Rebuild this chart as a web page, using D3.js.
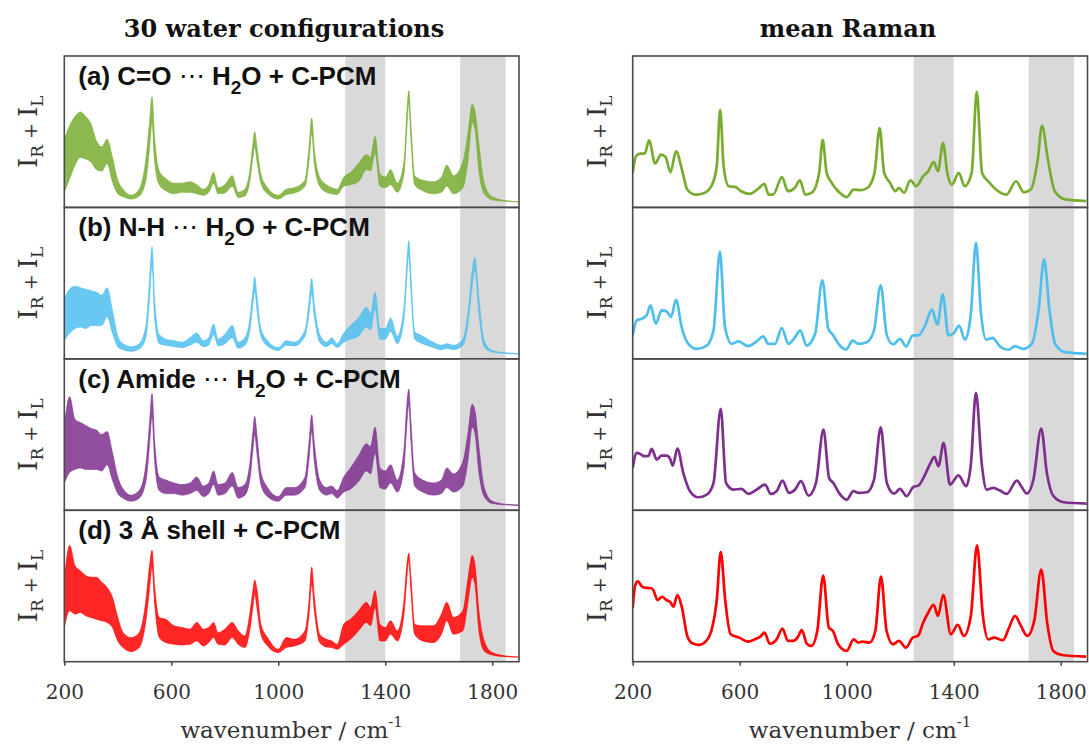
<!DOCTYPE html>
<html>
<head>
<meta charset="utf-8">
<script src="https://cdn.jsdelivr.net/npm/d3@7"></script>
<style>
  body { margin: 0; background: #fff; }
  svg { display: block; }
</style>
</head>
<body>
<svg id="chart" width="1089" height="746"></svg>
<script>
// ---- data (intensity: 0 = panel floor, 100 = panel top) ----
const wnRange = [200, 1900];
const xTickValues = [200, 600, 1000, 1400, 1800];
const shadedBands = [[1250, 1400], [1680, 1850]];

const panelLabels = [
  ["(a) C=O ", "~\u22EF", " H", "_2", "O + C-PCM"],
  ["(b) N-H ", "~\u22EF", " H", "_2", "O + C-PCM"],
  ["(c) Amide ", "~\u22EF", " H", "_2", "O + C-PCM"],
  ["(d) 3 \u00C5 shell + C-PCM"]
];

// 30 configurations: spread of the bundle (upper / lower edge) on a shared grid
const bandWn = [200,220,240,260,280,300,320,340,360,380,400,420,450,480,505,518,528,538,555,580,
  610,640,670,695,720,740,758,775,800,828,850,875,895,905,912,920,935,960,1000,1030,
  1060,1100,1115,1125,1135,1155,1180,1200,1220,1245,1270,1300,1330,1345,1362,1380,1400,1420,1445,1470,
  1480,1488,1496,1510,1540,1580,1610,1630,1655,1690,1710,1725,1735,1750,1770,1800,1850,1900];

const bandHiA = [45,54,60,63,60,55,44,40,45,33,18,12,8,12,32,55,73,45,24,19,
  16,16,17,15,12,15,23,13,15,21,10,12,26,42,50,40,22,13,8,12,
  13,18,40,59,38,20,15,13,12,20,23,29,35,33,47,22,20,25,16,30,
  60,77,55,21,18,17,20,28,21,30,50,68,64,42,16,7,4.5,3.8];
const bandLoA = [10,19,28,33,32,30,25,24,29,17,9,7,5.5,7.5,18,38,56,30,15,11,
  9,10,10,9,8,10,16,9,9.5,14,6.5,7.5,19,33,40,31,16,9,5.5,8.5,
  9.5,14,31,49,29,14,10,9,8.5,14,15,17,25,24,36,14,13,15,10,22,
  50,69,45,15,11,9,10,14,9,13,32,56,52,24,9,5,4,3.6];

const bandHiB = [40,46,48,47,46,45,44,42,47,32,15,10,8,10,22,50,74,38,16,13,
  12,11,14,17,12,14,23,13,16,22,11,14,28,45,54,42,20,12,7.5,12,
  11,19,38,53,36,16,11,14,10,17,22,27,34,30,44,20,20,27,15,34,
  62,78,55,18,15,11,9,10,9,13,32,58,67,40,12,5.5,4,3.5];
const bandLoB = [12,17,20,21,20,22,22,22,28,17,8,6,5,6.5,14,38,62,26,10,9,
  8,7.5,9,11,8,9,16,8.5,10,14,7,9,20,36,45,33,15,8.5,5.5,9,
  8.5,15,30,43,28,11,8,10,7.5,11,13,15,21,19,33,13,13,18,10,26,
  52,69,45,13,10,7.5,6,7,6,9,24,48,59,30,8,4.5,3.5,3.2];

const bandHiC = [55,75,60,58,56,54,53,50,52,38,22,14,10,13,30,56,77,45,22,20,
  18,17,18,22,16,18,26,17,18,25,15,17,33,52,62,50,25,15,9,15,
  15,22,45,63,44,20,15,16,13,22,28,36,44,42,55,28,26,30,20,40,
  68,80,58,25,20,18,20,28,24,32,52,70,66,42,15,6,4,3.5];
const bandLoC = [18,25,27,28,27,27,27,26,30,20,11,8,6,8,19,42,62,32,13,11,
  11,10,11,13,9,11,17,10,11,16,8,10,22,40,50,38,17,9,6,10,
  10,15,34,52,32,13,10,11,8,12,14,19,26,24,38,15,14,18,12,28,
  55,70,46,16,12,10,11,15,12,16,34,55,51,25,9,4.5,3.6,3.2];

const bandHiD = [53.5,76.8,63.5,60,56.9,55.8,55.8,52.4,49,42.5,29.2,19.2,15.9,19.2,40.3,62.4,73.5,49.1,29.2,28,
  23.7,22.6,21.5,25.9,21.5,22.6,25.9,19.2,21.5,25.9,20.4,17,33.6,46.9,54,48,24.8,15.9,8.2,15.9,
  14.8,20.4,40.3,62.4,42.5,18.1,14.8,13.7,11.5,24.8,28,33.6,39.2,35.8,46.9,24.8,22.6,27,20.4,40.3,
  62.4,71.7,55.8,24.8,23.7,23.7,31.4,39.2,29.2,33.6,55.8,70.1,64.6,33.6,13.7,6,3.8,3.1];
const bandLoD = [22.6,33.6,31.4,32.5,30.3,29.2,28,27,25.9,22.6,13.7,9.3,6.6,9.3,27,46.9,62.4,38,15.9,12.6,
  11.5,11,11.5,13.7,10.4,12.6,15.9,11.5,11,15.9,11.5,9.3,22.6,35.8,44.7,35.8,18.1,10.4,6,9.3,
  10.4,13.7,31.4,51.3,33.6,12.6,9.7,9.3,8.2,11.5,14.8,20.4,25.9,23.7,35.8,13.7,13.7,18.1,13.7,31.4,
  53.5,66.8,46.9,18.1,13.7,12.6,18.1,27,18.1,20.4,40.3,55.8,51.3,20.4,7.1,4.4,3.3,3];

// mean Raman spectra
const meanWnA = [200,212,228,245,261,284,306,323,341,362,384,404,436,468,494,514,527,540,559,585,
  605,637,670,692,708,725,758,780,806,825,845,871,897,910,925,942,968,1000,1026,1052,
  1078,1104,1123,1140,1162,1182,1195,1214,1238,1260,1286,1305,1325,1341,1360,1376,1393,1419,1441,1467,
  1486,1506,1532,1558,1597,1633,1662,1688,1714,1730,1752,1778,1817,1895];
const meanA = [22.8,33.8,35.5,35.5,44.3,29,34.9,33.3,23.2,37,25,11.8,8.5,9.6,14,27,64.5,27,14,13.4,
  10.7,9,12.5,15.6,8.5,8.5,20,10.7,13,17.8,8.5,10,22.8,44.7,22.8,16.7,10.7,6.8,11.8,11.4,
  13,22.8,52.4,22.8,16.2,10.7,13,9.6,17.8,14,20.6,24,30,24,42.5,22.8,15,22.8,14,22.8,
  76.5,22.8,16.7,11.8,8.5,17.3,10,11.8,31.6,54,31.6,10.7,5.3,4.2];

const meanWnB = [200,215,234,252,267,286,308,327,343,362,383,408,439,477,502,526,545,570,595,632,
  664,688,707,732,757,782,807,826,850,882,909,931,950,969,998,1022,1044,1075,1102,1127,
  1150,1174,1199,1222,1247,1268,1293,1318,1339,1359,1380,1399,1420,1442,1464,1483,1502,1521,1545,1573,
  1604,1629,1660,1692,1717,1738,1758,1779,1816,1897];
const meanB = [15.5,25.4,26.5,28.7,35.3,23.2,32,31.3,27.6,39,21,9.9,6.6,8.8,18.8,70.6,21,9.9,11.5,8.4,
  11.7,14.8,9.9,9.9,20.3,9.9,14.3,18.8,8.8,16.6,51.9,19.9,15.5,9.9,6.2,12.1,9.9,11,18.8,48.6,
  15.5,9.5,13.2,8.2,15.5,15.5,22,32.5,22.7,42.6,15.5,16.6,22,12.6,29.8,76.6,29.8,12.6,13.9,8.2,
  6,8.4,6.6,9.9,32,65.6,32,9.9,4.4,3.3];

const meanWnC = [200,215,230,242,259,271,290,308,327,340,350,367,389,414,445,477,502,529,549,576,
  607,632,664,695,716,738,760,784,807,829,857,885,913,934,950,973,1000,1025,1044,1075,
  1102,1127,1150,1177,1199,1224,1249,1268,1293,1312,1328,1343,1362,1386,1418,1446,1464,1483,1505,1523,
  1548,1573,1598,1636,1654,1673,1698,1727,1748,1773,1811,1897];
const meanC = [28,37.9,37,35.7,35.9,40.5,33.5,36.1,36.1,33.9,29.5,40.7,24.7,12.6,8.6,10.4,18,67,18,13.7,
  14.1,10.8,13.7,17,10.8,12.6,19.6,11.5,13.7,19.2,9.7,18,53.3,21.4,18,11,7,12.6,11.5,11.9,
  20.3,54.8,18,11,14.1,9.3,15.4,16.3,23.6,30.8,35.2,29.1,44.5,17,23.1,15.9,30.2,77.5,30.2,13.7,
  14.8,13,10.8,19.6,15.4,11,20.3,54,24.7,9.3,5.3,4.4];

const meanWnD = [200,209,219,235,251,270,278,293,310,326,341,352,367,384,404,423,449,475,494,514,
  529,546,566,598,631,657,676,693,712,738,760,780,799,816,832,851,868,890,912,933,
  948,968,1000,1026,1043,1059,1085,1107,1128,1149,1173,1195,1221,1247,1266,1286,1305,1325,1341,1361,
  1389,1415,1438,1464,1487,1509,1529,1551,1584,1607,1629,1651,1675,1701,1727,1750,1772,1804,1895];
const meanD = [35.4,50.2,53.1,49.6,48.7,48.5,46.9,40.7,42.9,40.7,39.2,36.3,44,35.8,17,12.2,11.1,13.7,20.4,40.3,
  72.3,40.3,18.1,15.9,13.3,14.8,16.4,19.2,11.9,14.8,21.9,13.7,13.7,15.9,20.8,11.9,10.4,20.4,56.9,22.6,
  20.4,11.5,7.1,14.8,12.6,13.3,12.6,20.4,56.2,20.4,11.5,13.7,9.3,15.9,17,25.9,32.5,37.6,30.3,44.2,
  18.1,24.3,17,30.3,76.8,30.3,14.8,15.9,14.2,22.6,30.3,23.7,17,27,60.8,24.8,7.1,4.4,3.3];

// ---- styling / layout ----
const seriesColors = ["#77AC30", "#4DBEEE", "#7E2F8E", "#FF0000"];
const bandsHi = [bandHiA, bandHiB, bandHiC, bandHiD];
const bandsLo = [bandLoA, bandLoB, bandLoC, bandLoD];
const meanWns = [meanWnA, meanWnB, meanWnC, meanWnD];
const means = [meanA, meanB, meanC, meanD];

const plotTop = 56, plotBottom = 661.7;
const panelH = (plotBottom - plotTop) / 4;
const columns = [
  {x0: 64.3, x1: 519, title: "30 water configurations", titleX: 284},
  {x0: 632.7, x1: 1087.5, title: "mean Raman", titleX: 848}
];
const serif = "'DejaVu Serif', 'Liberation Serif', serif";
const sans = "'Liberation Sans', Arial, sans-serif";
const frameColor = "#4a4a4a";
const textColor = "#333";

const svg = d3.select("#chart");
const defs = svg.append("defs");

columns.forEach((col, c) => {
  const x = d3.scaleLinear().domain(wnRange).range([col.x0, col.x1]);

  // column title
  svg.append("text")
     .attr("x", col.titleX)
     .attr("y", 37)
     .attr("text-anchor", "middle")
     .attr("font-family", serif)
     .attr("font-weight", "bold")
     .attr("font-size", 24)
     .attr("fill", "#111")
     .text(col.title);

  for (let i = 0; i < 4; i++) {
    const yTop = plotTop + i * panelH;
    const yBot = yTop + panelH;
    const y = d3.scaleLinear().domain([0, 100]).range([yBot, yTop]);
    const clipId = `clip-${c}-${i}`;
    defs.append("clipPath").attr("id", clipId)
        .append("rect")
        .attr("x", col.x0).attr("y", yTop)
        .attr("width", col.x1 - col.x0).attr("height", panelH);

    const g = svg.append("g").attr("clip-path", `url(#${clipId})`);

    // shaded wavenumber windows
    g.selectAll(".shade")
     .data(shadedBands)
     .enter()
     .append("rect")
     .attr("class", "shade")
     .attr("x", d => x(d[0]))
     .attr("width", d => x(d[1]) - x(d[0]))
     .attr("y", yTop)
     .attr("height", panelH)
     .attr("fill", "#d9d9d9");

    if (c === 0) {
      // spread of the 30 configurations
      const pts = bandWn.map((w, k) => ({w: w, lo: bandsLo[i][k], hi: bandsHi[i][k]}));
      const area = d3.area()
                     .x(d => x(d.w))
                     .y0(d => y(d.lo))
                     .y1(d => y(d.hi))
                     .curve(d3.curveMonotoneX);
      g.append("path")
       .datum(pts)
       .attr("d", area)
       .attr("fill", seriesColors[i])
       .attr("fill-opacity", 0.85);
      ["hi", "lo"].forEach(key => {
        g.append("path")
         .datum(pts)
         .attr("d", d3.line().x(d => x(d.w)).y(d => y(d[key])).curve(d3.curveMonotoneX))
         .attr("fill", "none")
         .attr("stroke", seriesColors[i])
         .attr("stroke-opacity", 0.6)
         .attr("stroke-width", 1);
      });
    } else {
      const pts = meanWns[i].map((w, k) => ({w: w, v: means[i][k]}));
      g.append("path")
       .datum(pts)
       .attr("d", d3.line().x(d => x(d.w)).y(d => y(d.v)).curve(d3.curveMonotoneX))
       .attr("fill", "none")
       .attr("stroke", seriesColors[i])
       .attr("stroke-width", 2.7)
       .attr("stroke-linejoin", "round");
    }

    // panel frame
    svg.append("rect")
       .attr("x", col.x0).attr("y", yTop)
       .attr("width", col.x1 - col.x0).attr("height", panelH)
       .attr("fill", "none")
       .attr("stroke", frameColor)
       .attr("stroke-width", 1.6);

    // y label  I_R + I_L
    const yl = svg.append("text")
       .attr("transform", `translate(${col.x0 - 27},${(yTop + yBot) / 2}) rotate(-90)`)
       .attr("text-anchor", "middle")
       .attr("font-family", serif)
       .attr("font-size", 26)
       .attr("fill", textColor);
    yl.append("tspan").text("I");
    yl.append("tspan").attr("font-size", 17).attr("dy", 6).text("R");
    yl.append("tspan").attr("font-size", 19).attr("dy", -6).text(" + ");
    yl.append("tspan").text("I");
    yl.append("tspan").attr("font-size", 17).attr("dy", 6).text("L");

    // panel label
    if (c === 0) {
      const lab = svg.append("text")
         .attr("x", col.x0 + 14)
         .attr("y", yTop + 29)
         .attr("font-family", sans)
         .attr("font-weight", "bold")
         .attr("font-size", 26)
         .attr("fill", "#111");
      let shift = 0;
      panelLabels[i].forEach(part => {
        if (part.startsWith("_")) {
          lab.append("tspan").attr("font-size", 19).attr("dy", 9).text(part.slice(1));
          shift = 9;
        } else if (part.startsWith("~")) {
          lab.append("tspan").attr("font-weight", "normal").attr("dy", -shift).text(part.slice(1));
          shift = 0;
        } else {
          lab.append("tspan").attr("dy", -shift).text(part);
          shift = 0;
        }
      });
    }

    // x axis on the bottom panel
    if (i === 3) {
      const ax = svg.append("g")
         .attr("transform", `translate(0,${yBot})`)
         .call(d3.axisBottom(x)
                 .tickValues(xTickValues)
                 .tickFormat(d3.format("d"))
                 .tickSize(4)
                 .tickSizeOuter(0)
                 .tickPadding(19));
      ax.select(".domain").remove();
      ax.selectAll("line").attr("stroke", frameColor).attr("stroke-width", 1.6);
      ax.selectAll("text")
        .attr("font-family", serif)
        .attr("font-size", 20)
        .attr("fill", textColor);

      const xl = svg.append("text")
         .attr("x", (col.x0 + col.x1) / 2)
         .attr("y", 738)
         .attr("text-anchor", "middle")
         .attr("font-family", serif)
         .attr("font-size", 23)
         .attr("fill", textColor);
      xl.append("tspan").text("wavenumber / cm");
      xl.append("tspan").attr("font-size", 15).attr("dy", -11).text("-1");
    }
  }
});
</script>
</body>
</html>
